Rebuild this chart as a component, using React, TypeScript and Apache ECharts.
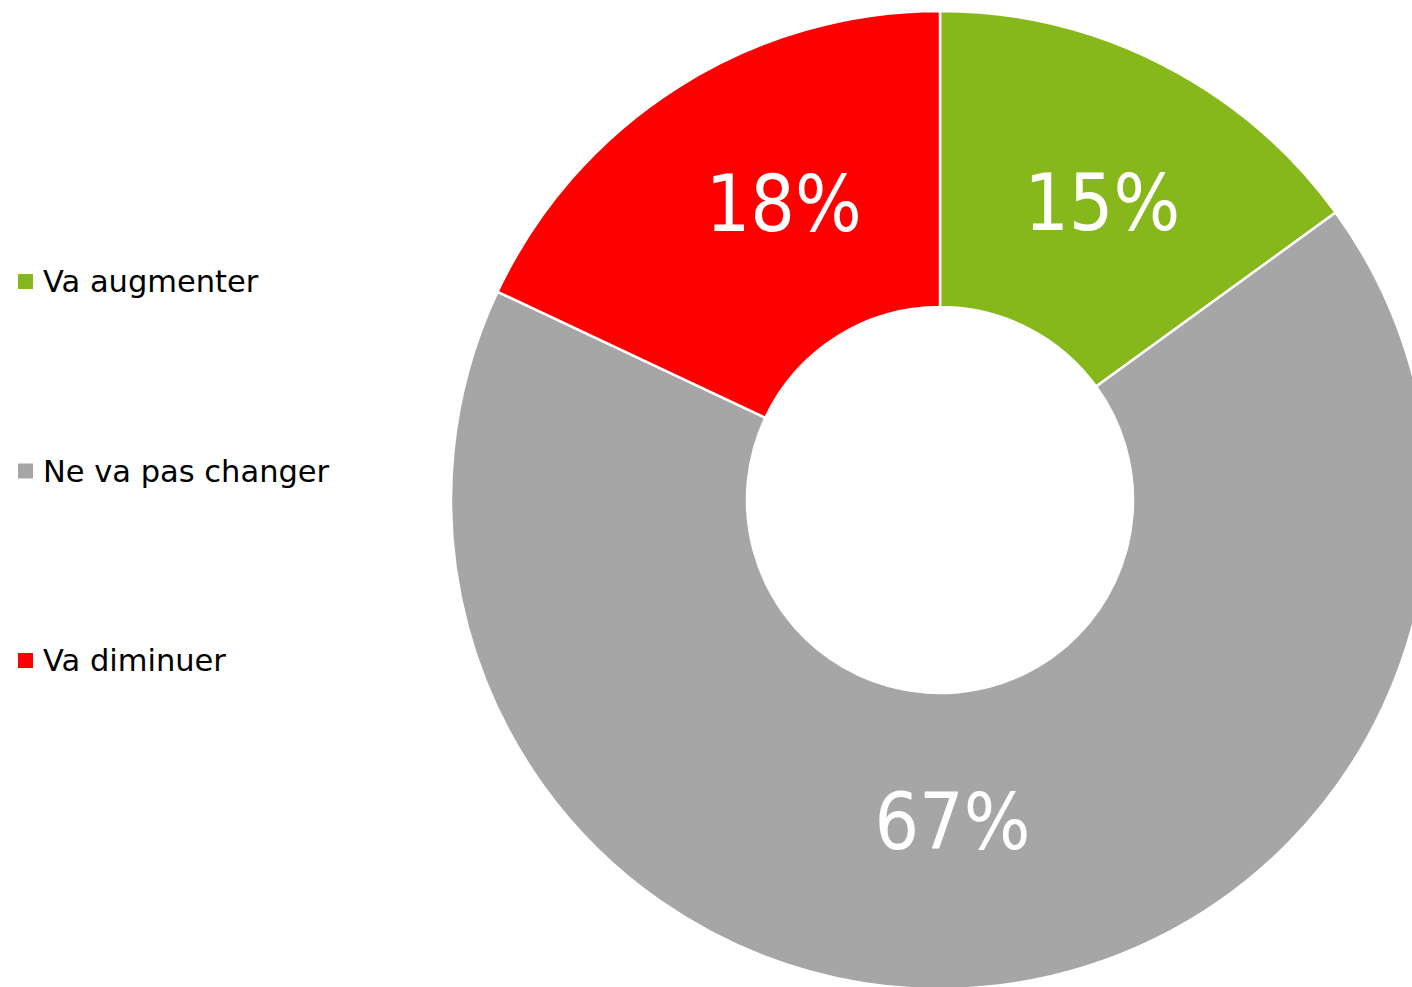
import React, { useEffect, useRef } from "react";
import * as echarts from "echarts";

const categories = ["Va augmenter", "Ne va pas changer", "Va diminuer"];
const values = [15, 67, 18];
const colors = ["#86B81C", "#A6A6A6", "#FF0000"];
const labelOffsets = [[6, 10], [-20, -20], [28, -6]];

const FONT = "'DejaVu Sans Condensed', 'DejaVu Sans', sans-serif";
const LEGEND_FONT = "'DejaVu Sans', sans-serif";

export default function App() {
  const ref = useRef<HTMLDivElement>(null);
  useEffect(() => {
    if (!ref.current) return;
    const chart = echarts.init(ref.current, null, { renderer: "svg" });
    chart.setOption({
      animation: false,
      backgroundColor: "#ffffff",
      legend: {
        orient: "vertical",
        left: 16,
        top: 266,
        padding: 0,
        icon: "rect",
        itemWidth: 17,
        itemHeight: 17,
        itemGap: 158.5,
        data: categories,
        textStyle: {
          fontFamily: LEGEND_FONT,
          fontSize: 30.5,
          color: "#000000",
          padding: [0, 0, 0, 4],
        },
      },
      series: [
        {
          type: "pie",
          center: [940, 500],
          radius: [193, 489],
          startAngle: 90,
          clockwise: true,
          avoidLabelOverlap: false,
          itemStyle: { borderColor: "#ffffff", borderWidth: 2.5 },
          label: {
            show: true,
            position: "inside",
            formatter: "{c}%",
            color: "#ffffff",
            fontFamily: FONT,
            fontSize: 78,
          },
          labelLine: { show: false },
          emphasis: { disabled: true },
          data: categories.map((name, i) => ({
            name,
            value: values[i],
            itemStyle: { color: colors[i] },
            label: { offset: labelOffsets[i] },
          })),
        },
      ],
    });
    return () => chart.dispose();
  }, []);
  return (
    <div
      ref={ref}
      style={{ position: "absolute", left: 0, top: 0, width: 1412, height: 987 }}
    />
  );
}
